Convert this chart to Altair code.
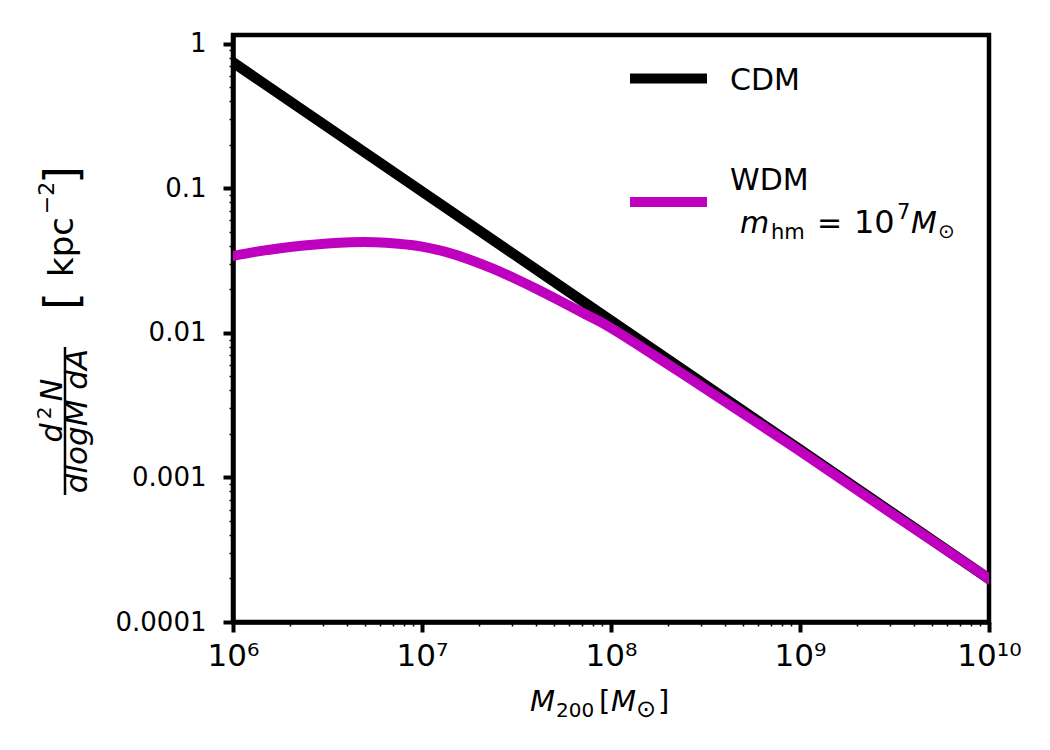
import math
import altair as alt
import pandas as pd

# ---------------- data ----------------
cdm_mass = [1e6, 1e7, 1e8, 1e9, 1e10]
cdm_density = [0.743, 0.0951, 0.01216, 0.001556, 0.000199]

wdm_mass = [1e6, 1.334e6, 1.778e6, 2.371e6, 3.162e6, 4.217e6, 5.623e6, 7.499e6,
            1e7, 1.334e7, 1.778e7, 2.371e7, 3.162e7, 4.217e7, 5.623e7, 7.499e7,
            1e8, 1.778e8, 3.162e8, 5.623e8, 1e9, 3.162e9, 1e10]
wdm_density = [0.03404, 0.03648, 0.03855, 0.04027, 0.04159, 0.04236, 0.04236, 0.04140,
               0.03954, 0.03631, 0.03221, 0.02780, 0.02350, 0.01959, 0.01614, 0.01324,
               0.01081, 0.00670, 0.00410, 0.00250, 0.00152, 0.000546, 0.000199]

x_major = [1e6, 1e7, 1e8, 1e9, 1e10]
x_major_labels = ["10⁶", "10⁷", "10⁸", "10⁹", "10¹⁰"]
y_major = [1e-4, 1e-3, 1e-2, 1e-1, 1]
y_major_labels = ["0.0001", "0.001", "0.01", "0.1", "1"]

x_minor = [m * 10 ** k for k in range(6, 10) for m in range(2, 10)]
y_minor = [m * 10.0 ** k for k in range(-4, 0) for m in range(2, 10)]

FONT = "DejaVu Sans"
MAGENTA = "#bf00bf"

df = pd.DataFrame({
    "M": cdm_mass + wdm_mass,
    "N": cdm_density + wdm_density,
    "model": ["CDM"] * len(cdm_mass) + ["WDM"] * len(wdm_mass),
})

LOG = "log(datum.value)/LN10"
is_major = f"abs({LOG} - round({LOG})) < 0.001"


def label_expr(values, labels):
    expr = "''"
    for v, lab in zip(values, labels):
        k = round(math.log10(v))
        expr = f"round({LOG}) == {k} ? '{lab}' : ({expr})"
    return f"({is_major}) ? ({expr}) : ''"


x_scale = alt.Scale(type="log", domain=[1e6, 1e10], nice=False)
y_scale = alt.Scale(type="log", domain=[1e-4, 1.15], nice=False)

tick_size = {"condition": {"test": is_major, "value": 10}, "value": 4}
tick_width = {"condition": {"test": is_major, "value": 4}, "value": 1.5}

x_axis = alt.Axis(values=x_major + x_minor, labelExpr=label_expr(x_major, x_major_labels),
                  tickSize=tick_size, tickWidth=tick_width, tickColor="black",
                  labelFontSize=31, labelFont=FONT, labelColor="black", labelPadding=9,
                  labelFlush=False, labelOverlap=False, domainColor="black", domainWidth=4.5,
                  grid=False, title=None)
y_axis = alt.Axis(values=y_major + y_minor, labelExpr=label_expr(y_major, y_major_labels),
                  tickSize=tick_size, tickWidth=tick_width, tickColor="black",
                  labelFontSize=26, labelFont=FONT, labelColor="black", labelPadding=17,
                  labelFlush=False, labelOverlap=False, domainColor="black", domainWidth=4.5,
                  grid=False, title=None)

base = alt.Chart(df).encode(
    x=alt.X("M:Q", scale=x_scale, axis=x_axis),
    y=alt.Y("N:Q", scale=y_scale, axis=y_axis),
)

cdm = base.transform_filter("datum.model == 'CDM'").mark_line(
    color="black", strokeWidth=10.5, clip=True, strokeCap="square")
wdm = base.transform_filter("datum.model == 'WDM'").mark_line(
    color=MAGENTA, strokeWidth=10, clip=True, strokeCap="square", interpolate="natural")

one = pd.DataFrame({"a": [0]})


def txt(s, x, y, size, style="normal", align="left", baseline="alphabetic", angle=0):
    kw = dict(text=s, font=FONT, fontSize=size, fontStyle=style, align=align,
              baseline=baseline, color="black")
    if angle:
        kw["angle"] = angle
    return alt.Chart(one).mark_text(**kw).encode(x=alt.value(x), y=alt.value(y))


def rtxt(s, x, y, size, style="normal"):
    return txt(s, x, y, size, style=style, align="center", baseline="middle", angle=270)


def hrule(x1, x2, y, color, width):
    return alt.Chart(one).mark_rule(color=color, strokeWidth=width).encode(
        x=alt.value(x1), x2=alt.value(x2), y=alt.value(y))


def vrule(x, y1, y2, width):
    return alt.Chart(one).mark_rule(color="black", strokeWidth=width).encode(
        x=alt.value(x), y=alt.value(y1), y2=alt.value(y2))


legend = [
    hrule(397, 474, 43.5, "black", 10),
    txt("CDM", 497, 55, 30),
    hrule(397, 474, 167, MAGENTA, 10),
    txt("WDM", 497, 155, 30),
    txt("m", 507, 198, 30, style="italic"),
    txt("hm", 538, 204, 21),
    txt("=", 584, 198, 30),
    txt("10", 621, 198, 32),
    txt("7", 664, 184, 21),
    txt("M", 678, 198, 30, style="italic"),
    txt("⊙", 705, 203, 20),
]

xtitle = [
    txt("M", 297, 676, 29, style="italic"),
    txt("200", 323, 682, 20),
    txt("[", 366, 676, 29),
    txt("M", 378, 676, 29, style="italic"),
    txt("⊙", 403, 682, 24),
    txt("]", 425, 676, 29),
]

ytitle = [
    rtxt("d", -180, 398, 30, style="italic"),
    rtxt("2", -188, 378, 20),
    rtxt("N", -180, 355, 30, style="italic"),
    vrule(-168, 312, 460, 2.5),
    rtxt("dlogM dA", -155, 386, 31, style="italic"),
    rtxt("[", -170, 266, 46),
    rtxt("kpc", -170, 212, 34),
    rtxt("−2", -186, 163, 22),
    rtxt("]", -170, 140, 46),
]

chart = alt.layer(cdm, wdm, *legend, *xtitle, *ytitle).properties(
    width=756, height=587,
    padding={"left": 233, "top": 35, "right": 61, "bottom": 128},
    autosize=alt.AutoSizeParams(type="none"),
    background="white",
).configure(font=FONT).configure_view(stroke="black", strokeWidth=4.5)

chart.save("out.html", embed_options={"renderer": "svg", "actions": False})
